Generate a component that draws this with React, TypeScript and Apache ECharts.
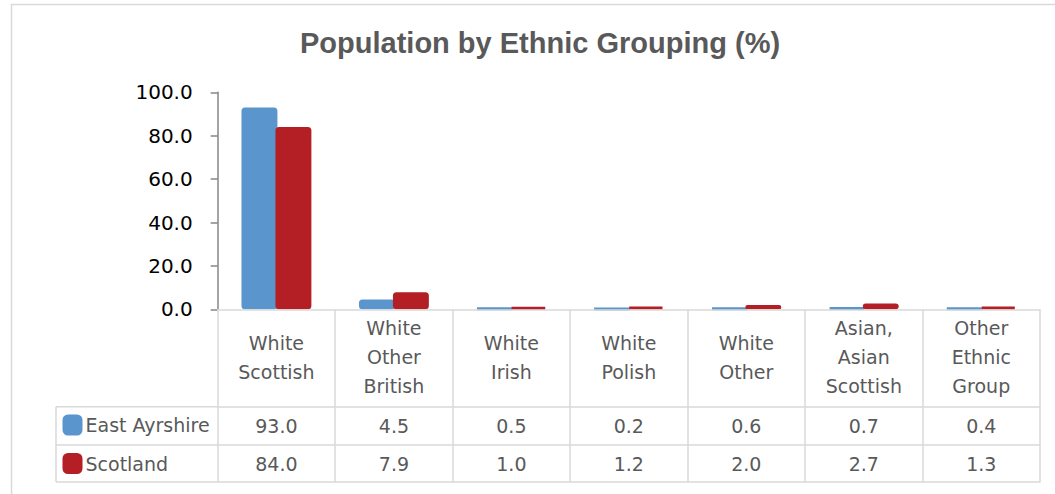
import React, { useEffect, useRef } from "react";
import * as echarts from "echarts";

const categories = [
  "White\nScottish",
  "White\nOther\nBritish",
  "White\nIrish",
  "White\nPolish",
  "White\nOther",
  "Asian,\nAsian\nScottish",
  "Other\nEthnic\nGroup",
];
const seriesNames = ["East Ayrshire", "Scotland"];
const eastAyrshire = [93.0, 4.5, 0.5, 0.2, 0.6, 0.7, 0.4];
const scotland = [84.0, 7.9, 1.0, 1.2, 2.0, 2.7, 1.3];
const yTicks = { min: 0, max: 100, interval: 20 };
const titleText = "Population by Ethnic Grouping (%)";

const BLUE = "#5B95CD";
const RED = "#B41F25";
const GRID_LINE = "#D9D9D9";
const TEXT_GRAY = "#595959";
const FONT = "DejaVu Sans";

export default function App() {
  const ref = useRef<HTMLDivElement>(null);

  useEffect(() => {
    if (!ref.current) return;
    const chart = echarts.init(ref.current, undefined, { renderer: "svg" });

    const gridLeft = 217.7;
    const gridRight = 15;
    const gridTop = 92.3;
    const axisY = 309.3;
    const row1 = 406.7;
    const row2 = 445;
    const row3 = 482;
    const legendColLeft = 56;

    const tableAxis = (offset: number, values: number[] | null) => ({
      type: "category",
      data: categories,
      position: "bottom",
      offset,
      gridIndex: 0,
      axisLine: { show: true, lineStyle: { color: GRID_LINE, width: 1.5 } },
      axisTick: { show: false },
      axisLabel: values
        ? {
            show: true,
            interval: 0,
            margin: 19,
            verticalAlign: "middle",
            fontSize: 19,
            lineHeight: 19,
            color: TEXT_GRAY,
            fontFamily: FONT,
            formatter: (_v: string, i: number) => values[i].toFixed(1),
          }
        : { show: false },
      splitLine: { show: false },
    });

    const hLine = (y: number) => ({
      type: "line",
      shape: { x1: legendColLeft, y1: y, x2: gridLeft, y2: y },
      style: { stroke: GRID_LINE, lineWidth: 1.5 },
    });

    chart.setOption({
      animation: false,
      title: {
        text: titleText,
        left: 295,
        top: 23,
        padding: 5,
        textStyle: {
          fontFamily: "Liberation Sans",
          fontWeight: "bold",
          fontSize: 29,
          color: TEXT_GRAY,
        },
      },
      legend: {
        orient: "vertical",
        left: 62.5,
        top: 414.5,
        padding: 0,
        itemWidth: 18,
        itemHeight: 19,
        itemGap: 17.5,
        icon: "roundRect",
        data: seriesNames,
        textStyle: {
          fontSize: 19,
          lineHeight: 19,
          color: TEXT_GRAY,
          fontFamily: FONT,
          padding: [0, 0, 0, -1],
        },
      },
      grid: {
        left: gridLeft,
        right: gridRight,
        top: gridTop,
        bottom: 494 - axisY,
        containLabel: false,
      },
      xAxis: [
        {
          type: "category",
          data: categories,
          position: "bottom",
          axisLine: { show: true, lineStyle: { color: GRID_LINE, width: 1.5 } },
          axisTick: {
            show: true,
            interval: 0,
            length: row3 - axisY,
            lineStyle: { color: GRID_LINE, width: 1.5 },
          },
          axisLabel: {
            interval: 0,
            margin: 48,
            verticalAlign: "middle",
            fontSize: 19,
            lineHeight: 29,
            color: TEXT_GRAY,
            fontFamily: FONT,
          },
          splitLine: { show: false },
          z: 3,
        },
        tableAxis(row1 - axisY, eastAyrshire),
        tableAxis(row2 - axisY, scotland),
        tableAxis(row3 - axisY, null),
      ],
      yAxis: {
        type: "value",
        min: yTicks.min,
        max: yTicks.max,
        interval: yTicks.interval,
        axisLine: { show: true, lineStyle: { color: "#868686", width: 1.5 } },
        axisTick: { show: true, length: 7, lineStyle: { color: "#868686", width: 1.5 } },
        axisLabel: {
          margin: 25,
          fontSize: 20,
          color: "#000000",
          fontFamily: FONT,
          formatter: (v: number) => v.toFixed(1),
        },
        splitLine: { show: false },
      },
      series: [
        {
          name: seriesNames[0],
          type: "bar",
          data: eastAyrshire,
          barWidth: "30.6%",
          barGap: "-5.5%",
          z: 2,
          itemStyle: {
            color: BLUE,
            borderColor: BLUE,
            borderWidth: 3,
            borderRadius: 2,
          },
        },
        {
          name: seriesNames[1],
          type: "bar",
          data: scotland,
          barWidth: "30.6%",
          barGap: "-5.5%",
          z: 2,
          itemStyle: {
            color: RED,
            borderColor: RED,
            borderWidth: 3,
            borderRadius: 2,
          },
        },
      ],
      graphic: [
        {
          type: "rect",
          shape: { x: 11.5, y: 4.5, width: 1200, height: 600 },
          style: { fill: "none", stroke: GRID_LINE, lineWidth: 1.5 },
          silent: true,
        },
        hLine(row1),
        hLine(row2),
        hLine(row3),
        {
          type: "line",
          shape: { x1: legendColLeft, y1: row1, x2: legendColLeft, y2: row3 },
          style: { stroke: GRID_LINE, lineWidth: 1.5 },
        },
      ],
    });

    return () => chart.dispose();
  }, []);

  return (
    <div
      ref={ref}
      style={{
        position: "fixed",
        left: 0,
        top: 0,
        width: 1055,
        height: 494,
        background: "#ffffff",
      }}
    />
  );
}
